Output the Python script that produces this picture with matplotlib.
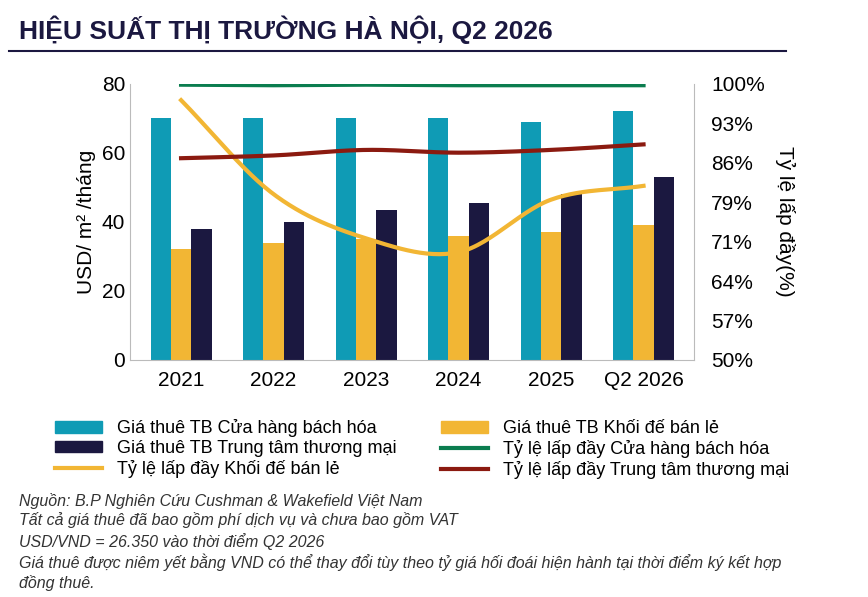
import numpy as np
import matplotlib.pyplot as plt
from matplotlib.lines import Line2D
from matplotlib.patches import Patch

plt.rcParams['font.family'] = ['Liberation Sans', 'DejaVu Sans']

years = ["2021", "2022", "2023", "2024", "2025", "Q2 2026"]
rent_dept = [70, 70, 70, 70, 69, 72]
rent_podium = [32, 34, 35, 36, 37, 39]
rent_mall = [38, 40, 43.5, 45.5, 48, 53]
occ_dept = [99.8, 99.7, 99.8, 99.7, 99.7, 99.7]
occ_podium = [97, 80, 72, 69.5, 79, 81.5]
occ_mall = [86.5, 87, 88, 87.5, 88, 89]

teal, gold, navy = "#0f9bb5", "#f2b634", "#1b1840"
green, red = "#0b7d4f", "#8b1a10"

def smooth(x, y, n=30):
    x = np.asarray(x, float); y = np.asarray(y, float)
    xp = np.concatenate([[2*x[0]-x[1]], x, [2*x[-1]-x[-2]]])
    yp = np.concatenate([[2*y[0]-y[1]], y, [2*y[-1]-y[-2]]])
    xs, ys = [], []
    for i in range(1, len(xp)-2):
        t = np.linspace(0, 1, n)
        for arr, out in ((xp, xs), (yp, ys)):
            p0, p1, p2, p3 = arr[i-1:i+3]
            out.extend(0.5*((2*p1) + (-p0+p2)*t + (2*p0-5*p1+4*p2-p3)*t**2 + (-p0+3*p1-3*p2+p3)*t**3))
    return xs, ys

fig = plt.figure(figsize=(8.68, 5.97), dpi=100)
ax = fig.add_axes([0.15, 0.397, 0.65, 0.463])
x = np.arange(len(years))
w = 0.22
ax.bar(x-w, rent_dept, w, color=teal)
ax.bar(x, rent_podium, w, color=gold)
ax.bar(x+w, rent_mall, w, color=navy)
ax.set_ylim(0, 80)
ax.set_yticks([0, 20, 40, 60, 80])
ax.set_xlim(-0.55, 5.55)
ax.set_xticks(x)
ax.set_xticklabels(years, fontsize=15)
ax.tick_params(axis='y', labelsize=15, length=0)
ax.tick_params(axis='x', length=0, pad=8)
ax.set_ylabel("USD/ m² /tháng", fontsize=15)
for s in ["top", "right"]:
    ax.spines[s].set_visible(False)
ax.spines["left"].set_color("#bbbbbb")
ax.spines["bottom"].set_color("#bbbbbb")

ax2 = ax.twinx()
ax2.set_ylim(50, 100)
ticks = np.linspace(50, 100, 8)
ax2.set_yticks(ticks)
ax2.set_yticklabels([f"{t:.0f}%" for t in ticks], fontsize=15)
ax2.tick_params(axis='y', length=0, pad=12)
for s in ["top", "left", "bottom"]:
    ax2.spines[s].set_visible(False)
ax2.spines["right"].set_color("#bbbbbb")
ax2.set_ylabel("Tỷ lệ lấp đầy(%)", fontsize=15, rotation=270, labelpad=22)
ax2.plot(x, occ_dept, color=green, lw=3)
ax2.plot(*smooth(x, occ_podium), color=gold, lw=3)
ax2.plot(*smooth(x, occ_mall), color=red, lw=3)

fig.text(0.022, 0.95, "HIỆU SUẤT THỊ TRƯỜNG HÀ NỘI, Q2 2026", fontsize=19,
         fontweight='bold', color=navy, va='center')
fig.add_artist(Line2D([0.01, 0.905], [0.914, 0.914], color=navy, lw=1.5))

handles = [Patch(color=teal), Patch(color=gold), Patch(color=navy),
           Line2D([], [], color=green, lw=3), Line2D([], [], color=gold, lw=3),
           Line2D([], [], color=red, lw=3)]
labels = ["Giá thuê TB Cửa hàng bách hóa", "Giá thuê TB Khối đế bán lẻ",
          "Giá thuê TB Trung tâm thương mại", "Tỷ lệ lấp đầy Cửa hàng bách hóa",
          "Tỷ lệ lấp đầy Khối đế bán lẻ", "Tỷ lệ lấp đầy Trung tâm thương mại"]
order = [0, 2, 4, 1, 3, 5]
fig.legend([handles[i] for i in order], [labels[i] for i in order], ncol=2,
           loc='upper left', bbox_to_anchor=(0.045, 0.325), frameon=False,
           fontsize=13, handlelength=2.6, handleheight=0.6,
           labelspacing=0.15, columnspacing=2.5)

notes = ("Nguồn: B.P Nghiên Cứu Cushman & Wakefield Việt Nam\n"
         "Tất cả giá thuê đã bao gồm phí dịch vụ và chưa bao gồm VAT\n"
         "USD/VND = 26.350 vào thời điểm Q2 2026\n"
         "Giá thuê được niêm yết bằng VND có thể thay đổi tùy theo tỷ giá hối đoái hiện hành tại thời điểm ký kết hợp\n"
         "đồng thuê.")
fig.text(0.022, 0.175, notes, fontsize=11.5, style='italic', color="#333333",
         va='top', linespacing=1.3)

fig.savefig("out.png", dpi=100)
